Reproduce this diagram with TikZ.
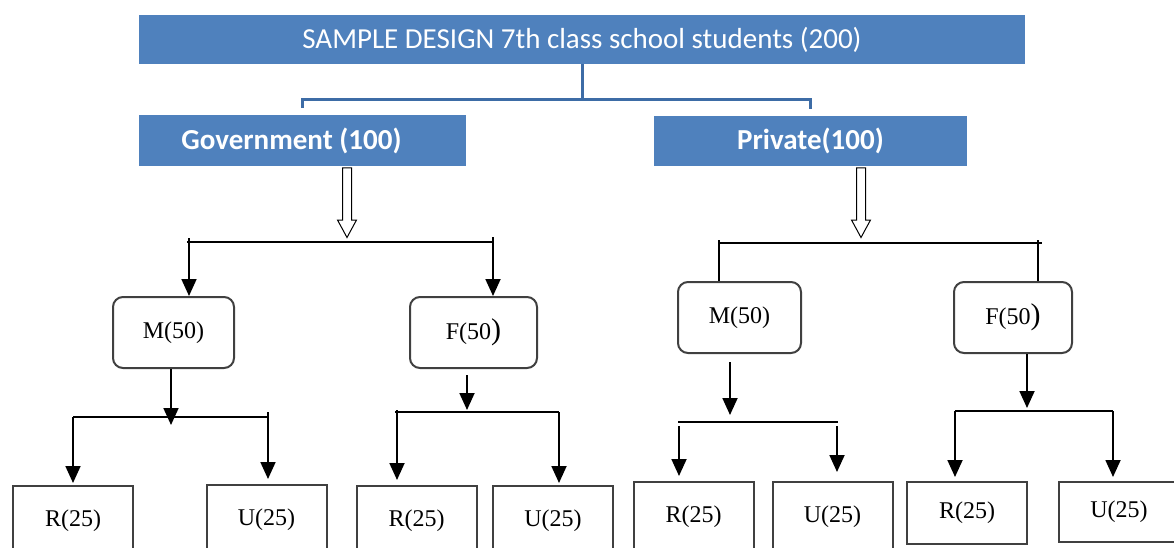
\documentclass[tikz,border=0pt]{standalone}
\usepackage{fontspec}
\setmainfont{Liberation Serif}
\newfontfamily\headfont{Carlito}
\usetikzlibrary{arrows.meta}
\definecolor{boxblue}{HTML}{4F81BD}
\definecolor{linkblue}{HTML}{3D6CA6}
\definecolor{edgegray}{HTML}{404040}

\begin{document}
\begin{tikzpicture}[x=1pt, y=-1pt,
  head/.style={fill=boxblue, text=white, inner sep=0pt,
    font=\headfont\fontsize{29}{34}\selectfont},
  sexbox/.style={draw=edgegray, line width=2pt, rounded corners=10pt,
    minimum width=121pt, minimum height=71pt, inner sep=0pt,
    font=\fontsize{24}{28}\selectfont},
  areabox/.style={draw=edgegray, line width=2pt, anchor=north,
    minimum width=120pt, minimum height=62pt, inner sep=0pt,
    font=\fontsize{24}{28}\selectfont},
  bracket/.style={linkblue, line width=3pt},
  link/.style={line width=1.8pt},
  arr/.style={link, -{Triangle[length=17pt,width=15pt]}},
  hollow/.style={draw=black, fill=white, line width=1pt}]
  \useasboundingbox (0,0) rectangle (1174,548);
  \clip (0,0) rectangle (1174,548);

  % top level
  \node[head, minimum width=886pt, minimum height=49pt] (title) at (582,39.5)
    {SAMPLE DESIGN 7th class school students (200)};
  \node[head, minimum width=327pt, minimum height=51pt,
    font=\headfont\fontsize{29}{34}\selectfont\bfseries] (gov) at (302.5,140.5)
    {\hspace*{-22pt}Government (100)};
  \node[head, minimum width=313pt, minimum height=50pt,
    font=\headfont\fontsize{29}{34}\selectfont\bfseries] (priv) at (810.5,141)
    {Private(100)};

  \coordinate (split) at (582,100);
  \draw[bracket] (title.south) -- (split);
  \draw[bracket] ([yshift=7pt]gov.north) |- (split) -| ([yshift=7pt]priv.north);

  % hollow arrows
  \coordinate (govdown) at (347,168);
  \coordinate (privdown) at (861,168);
  \foreach \c in {govdown, privdown}
    \draw[hollow] (\c) ++(-4.5,0) -- ++(0,52) -- ++(-5,0) -- ++(9.5,17.5)
      -- ++(9.5,-17.5) -- ++(-5,0) -- ++(0,-52) -- cycle;

  % gender boxes
  \node[sexbox] (gm) at (173.5,332.5) {M(50)};
  \node[sexbox, minimum width=127pt] (gf) at (473.5,332.5)
    {F(50{\fontsize{30}{30}\selectfont)}};
  \node[sexbox, minimum width=123pt] (pm) at (739.5,317.5) {M(50)};
  \node[sexbox, minimum width=118pt] (pf) at (1013,317.5)
    {F(50{\fontsize{30}{30}\selectfont)}};

  \coordinate (gjl) at (189,242);
  \coordinate (gjr) at (493,242);
  \draw[link] ([xshift=-2pt]gjl) -- (gjr);
  \draw[arr] ([yshift=4pt]gjl) -- (gjl |- gm.north);
  \draw[arr] ([yshift=5pt]gjr) -- (gjr |- gf.north);

  \coordinate (pjl) at (719,243);
  \coordinate (pjr) at (1038,243);
  \draw[link] (pjl) -- ([xshift=4pt]pjr);
  \draw[link] ([yshift=3pt]pjl) -- (pjl |- pm.north);
  \draw[link] ([yshift=3pt]pjr) -- (pjr |- pf.north);

  % area boxes
  \node[areabox, minimum height=70pt] (gmr) at (73,485) {R(25)};
  \node[areabox, minimum height=70pt] (gmu) at (266.5,484) {U(25)};
  \node[areabox, minimum height=70pt] (gfr) at (416.5,485) {R(25)};
  \node[areabox, minimum height=70pt] (gfu) at (553,485) {U(25)};
  \node[areabox, minimum height=70pt] (pmr) at (693.5,481) {R(25)};
  \node[areabox, minimum height=70pt] (pmu) at (832.5,481) {U(25)};
  \node[areabox] (pfr) at (967,481) {R(25)};
  \node[areabox, minimum height=60pt] (pfu) at (1119,481) {U(25)};

  % government, male
  \coordinate (gmj) at (171,425);
  \coordinate (gmjl) at (73,417);
  \coordinate (gmjr) at (268,417);
  \draw[arr] (gm.south -| gmj) -- (gmj);
  \draw[link] (gmjl) -- (gmjr);
  \draw[arr, shorten >=2pt] (gmjl) -- (gmjl |- gmr.north);
  \draw[arr, shorten >=5pt] ([yshift=5pt]gmjr) -- (gmjr |- gmu.north);

  % government, female
  \coordinate (gfa) at (467,375);
  \coordinate (gfj) at (467,410);
  \coordinate (gfjl) at (397,412);
  \coordinate (gfjr) at (559,412);
  \draw[arr] (gfa) -- (gfj);
  \draw[link] ([xshift=-2pt]gfjl) -- (gfjr);
  \draw[arr, shorten >=5pt] ([yshift=2pt]gfjl) -- (gfjl |- gfr.north);
  \draw[arr, shorten >=2pt] (gfjr) -- (gfjr |- gfu.north);

  % private, male
  \coordinate (pma) at (730,362);
  \coordinate (pmj) at (730,415);
  \coordinate (pmjl) at (679,422);
  \coordinate (pmjr) at (837,422);
  \draw[arr] (pma) -- (pmj);
  \draw[link] ([xshift=-1pt]pmjl) -- ([xshift=1pt]pmjr);
  \draw[arr, shorten >=5pt] ([yshift=-4pt]pmjl) -- (pmjl |- pmr.north);
  \draw[arr, shorten >=9pt] ([yshift=-4pt]pmjr) -- (pmjr |- pmu.north);

  % private, female
  \coordinate (pfj) at (1027,408);
  \coordinate (pfjl) at (955,411);
  \coordinate (pfjr) at (1113,411);
  \draw[arr] (pf.south -| pfj) -- (pfj);
  \draw[link] (pfjl) -- (pfjr);
  \draw[arr, shorten >=4pt] (pfjl) -- (pfjl |- pfr.north);
  \draw[arr, shorten >=4pt] (pfjr) -- (pfjr |- pfu.north);
\end{tikzpicture}
\end{document}
